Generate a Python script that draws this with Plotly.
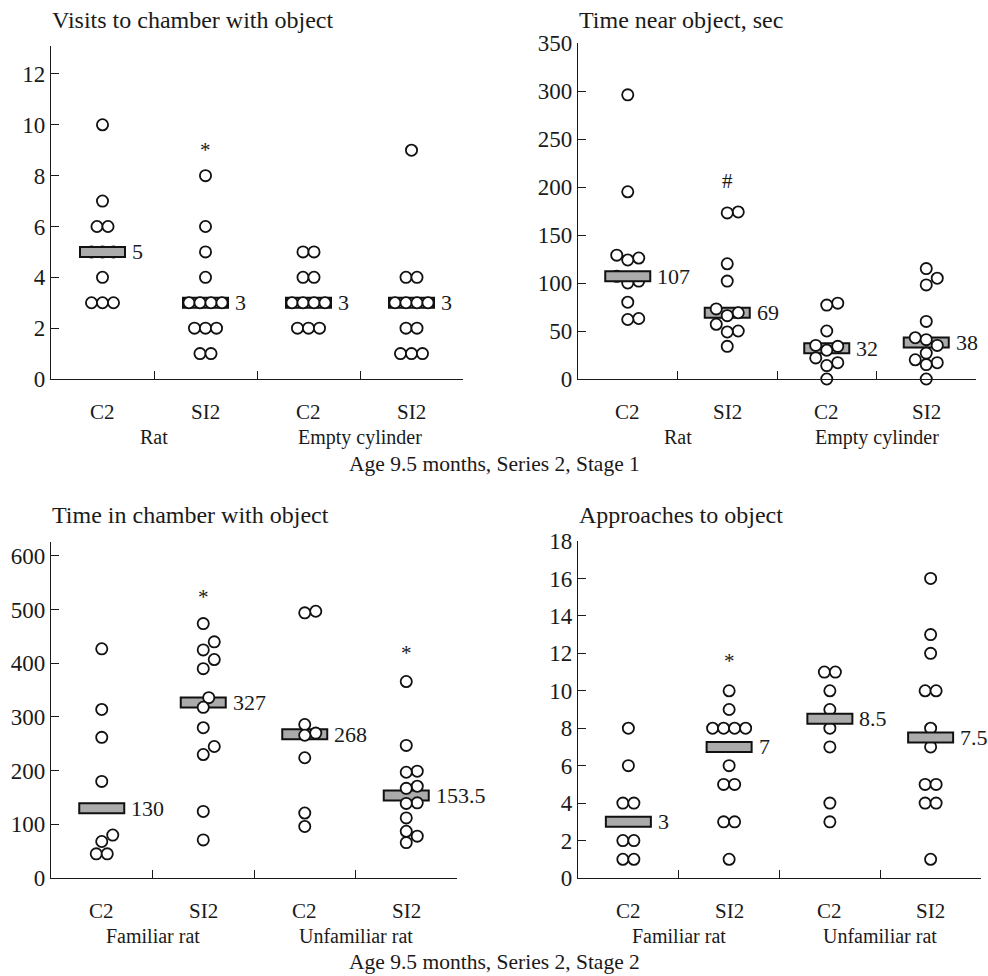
import numpy as np
import plotly.graph_objects as go

W, H = 988, 976
FONT = "Liberation Serif"
INK = "#1a1a1a"

# ---------------- data ----------------
categories = ["C2", "SI2", "C2", "SI2"]

stage1_groups = ["Rat", "Empty cylinder"]
stage2_groups = ["Familiar rat", "Unfamiliar rat"]
stage1_caption = "Age 9.5 months, Series 2, Stage 1"
stage2_caption = "Age 9.5 months, Series 2, Stage 2"

visits_title = "Visits to chamber with object"
visits_rat_c2 = [10, 7, 6, 6, 5, 5, 5, 4, 3, 3, 3]
visits_rat_si2 = [8, 6, 5, 4, 3, 3, 3, 3, 2, 2, 2, 1, 1]
visits_cyl_c2 = [5, 5, 4, 4, 3, 3, 3, 3, 2, 2, 2]
visits_cyl_si2 = [9, 4, 4, 3, 3, 3, 3, 2, 2, 1, 1, 1]
visits_marks = [(1, "*", 9.0)]
visits_yticks = [0, 2, 4, 6, 8, 10, 12]

near_title = "Time near object, sec"
near_rat_c2 = [296, 195, 129, 126, 124, 107, 102, 100, 80, 63, 62]
near_rat_si2 = [174, 173, 120, 102, 73, 69, 66, 57, 50, 49, 34]
near_cyl_c2 = [79, 77, 50, 35, 34, 30, 22, 17, 14, 0]
near_cyl_si2 = [115, 105, 98, 60, 43, 41, 35, 27, 20, 17, 15, 0]
near_marks = [(1, "#", 206)]
near_yticks = [0, 50, 100, 150, 200, 250, 300, 350]

chamber_title = "Time in chamber with object"
chamber_fam_c2 = [427, 314, 262, 180, 80, 68, 45, 45]
chamber_fam_si2 = [474, 440, 425, 407, 390, 336, 318, 280, 245, 230, 124, 71]
chamber_unf_c2 = [497, 494, 286, 270, 266, 224, 121, 96]
chamber_unf_si2 = [366, 247, 199, 197, 171, 167, 140, 139, 112, 87, 78, 66]
chamber_marks = [(1, "*", 523), (3, "*", 419)]
chamber_yticks = [0, 100, 200, 300, 400, 500, 600]

approach_title = "Approaches to object"
approach_fam_c2 = [8, 6, 4, 4, 2, 2, 1, 1]
approach_fam_si2 = [10, 9, 8, 8, 8, 8, 6, 5, 5, 3, 3, 1]
approach_unf_c2 = [11, 11, 10, 9, 8, 7, 4, 3]
approach_unf_si2 = [16, 13, 12, 10, 10, 8, 7, 5, 5, 4, 4, 1]
approach_marks = [(1, "*", 11.6)]
approach_yticks = [0, 2, 4, 6, 8, 10, 12, 14, 16, 18]

# ---------------- layout geometry (pixels) ----------------
panels = [
    dict(title=visits_title, series=[visits_rat_c2, visits_rat_si2, visits_cyl_c2, visits_cyl_si2],
         marks=visits_marks, yticks=visits_yticks, groups=stage1_groups,
         px=(51, 463), py=(379, 46), yrange=(0, 13.1), title_xy=(50, 20),
         bar_top=[True, False, False, False]),
    dict(title=near_title, series=[near_rat_c2, near_rat_si2, near_cyl_c2, near_cyl_si2],
         marks=near_marks, yticks=near_yticks, groups=stage1_groups,
         px=(578, 976), py=(379, 43), yrange=(0, 350), title_xy=(577, 20),
         bar_top=[True, False, False, False]),
    dict(title=chamber_title, series=[chamber_fam_c2, chamber_fam_si2, chamber_unf_c2, chamber_unf_si2],
         marks=chamber_marks, yticks=chamber_yticks, groups=stage2_groups,
         px=(51, 457), py=(878, 542), yrange=(0, 626), title_xy=(50, 515),
         bar_top=[False, False, False, False]),
    dict(title=approach_title, series=[approach_fam_c2, approach_fam_si2, approach_unf_c2, approach_unf_si2],
         marks=approach_marks, yticks=approach_yticks, groups=stage2_groups,
         px=(578, 981), py=(878, 541), yrange=(0, 18), title_xy=(577, 515),
         bar_top=[True, True, True, True]),
]

captions = [(stage1_caption, 464), (stage2_caption, 962)]

D = 11.0  # dodge distance in pixels


def swarm_offsets(vals, ppu, ppc, d=D):
    vals = np.asarray(vals, float)
    off = np.zeros(len(vals))
    placed = []
    cands = sorted({s * d / 2 for s in range(-14, 15)}, key=lambda s: (abs(s), -s))
    for v in sorted(set(vals)):
        idx = [i for i in range(len(vals)) if vals[i] == v]
        k = len(idx)
        base = [(j - (k - 1) / 2) * d for j in range(k)]
        y = v * ppu
        xs = base
        for s in cands:
            xs = [b + s for b in base]
            ok = all((x - qx) ** 2 + (y - qy) ** 2 >= (d * 0.97) ** 2
                     for x in xs for (qx, qy) in placed)
            if ok:
                break
        for i, x in zip(idx, xs):
            off[i] = x / ppc
            placed.append((x, y))
    return off


fig = go.Figure()
shapes = []
annotations = []
layout_axes = {}

for n, p in enumerate(panels, start=1):
    xa = "x" if n == 1 else f"x{n}"
    ya = "y" if n == 1 else f"y{n}"
    x0px, x1px = p["px"]
    ybot, ytop = p["py"]
    ppc = (x1px - x0px) / 4.0
    ppu = (ybot - ytop) / (p["yrange"][1] - p["yrange"][0])

    xkey = "xaxis" if n == 1 else f"xaxis{n}"
    ykey = "yaxis" if n == 1 else f"yaxis{n}"
    layout_axes[xkey] = dict(
        domain=[x0px / W, x1px / W], range=[-0.5, 3.5], anchor=ya, automargin=False,
        showline=True, linecolor=INK, linewidth=1.4, showgrid=False, zeroline=False,
        tickmode="array", tickvals=[0.5, 1.5, 2.5, 3.5], ticks="inside", ticklen=8,
        tickwidth=1.4, tickcolor=INK, showticklabels=False, fixedrange=True,
    )
    layout_axes[ykey] = dict(
        domain=[1 - ybot / H, 1 - ytop / H], range=list(p["yrange"]), anchor=xa,
        automargin=False,
        showline=True, linecolor=INK, linewidth=1.4, showgrid=False, zeroline=False,
        tickmode="array", tickvals=p["yticks"], ticks="inside", ticklen=8,
        tickwidth=1.4, tickcolor=INK,
        tickfont=dict(family=FONT, size=23, color=INK), fixedrange=True,
    )

    for i, vals in enumerate(p["series"]):
        med = float(np.median(vals))
        off = swarm_offsets(vals, ppu, ppc)
        bw = 22.5 / ppc
        shapes.append(dict(
            type="rect", xref=xa, yref=ya, x0=i - bw, x1=i + bw,
            ysizemode="pixel", yanchor=med, y0=-5, y1=5,
            fillcolor="#ababab", line=dict(color="#111111", width=2),
            layer="above" if p["bar_top"][i] else "below",
        ))
        fig.add_trace(go.Scatter(
            x=i + off, y=vals, mode="markers", xaxis=xa, yaxis=ya,
            marker=dict(symbol="circle", size=11.2, color="white",
                        line=dict(color="#111111", width=1.8)),
            showlegend=False, hoverinfo="y", cliponaxis=False,
        ))
        annotations.append(dict(
            xref=xa, yref=ya, x=i + bw, y=med, xshift=5, xanchor="left", yanchor="middle",
            text=f"{med:g}", showarrow=False, font=dict(family=FONT, size=22, color=INK),
        ))
        # category label
        annotations.append(dict(
            xref=xa, yref="paper", x=i, y=1 - (ybot + 33) / H, xanchor="center", yanchor="middle",
            text=categories[i], showarrow=False, font=dict(family=FONT, size=21, color=INK),
        ))
    for g, gname in enumerate(p["groups"]):
        annotations.append(dict(
            xref=xa, yref="paper", x=2 * g + 0.5, y=1 - (ybot + 58) / H,
            xanchor="center", yanchor="middle",
            text=gname, showarrow=False, font=dict(family=FONT, size=20, color=INK),
        ))
    for (ci, sym, yv) in p["marks"]:
        annotations.append(dict(
            xref=xa, yref=ya, x=ci, y=yv, xanchor="center", yanchor="middle",
            text=sym, showarrow=False, font=dict(family=FONT, size=21, color=INK),
        ))
    tx, ty = p["title_xy"]
    annotations.append(dict(
        xref="paper", yref="paper", x=tx / W, y=1 - ty / H, xanchor="left", yanchor="middle",
        text=p["title"], showarrow=False, font=dict(family=FONT, size=24, color=INK),
    ))

for text, ypx in captions:
    annotations.append(dict(
        xref="paper", yref="paper", x=494 / W, y=1 - ypx / H, xanchor="center", yanchor="middle",
        text=text, showarrow=False, font=dict(family=FONT, size=21.5, color=INK),
    ))

fig.update_layout(
    width=W, height=H, margin=dict(l=0, r=0, t=0, b=0, pad=0), autosize=False,
    paper_bgcolor="white", plot_bgcolor="white",
    shapes=shapes, annotations=annotations, showlegend=False,
    font=dict(family=FONT, color=INK),
    **layout_axes,
)

fig.write_html("out.html", config={"displayModeBar": False})
